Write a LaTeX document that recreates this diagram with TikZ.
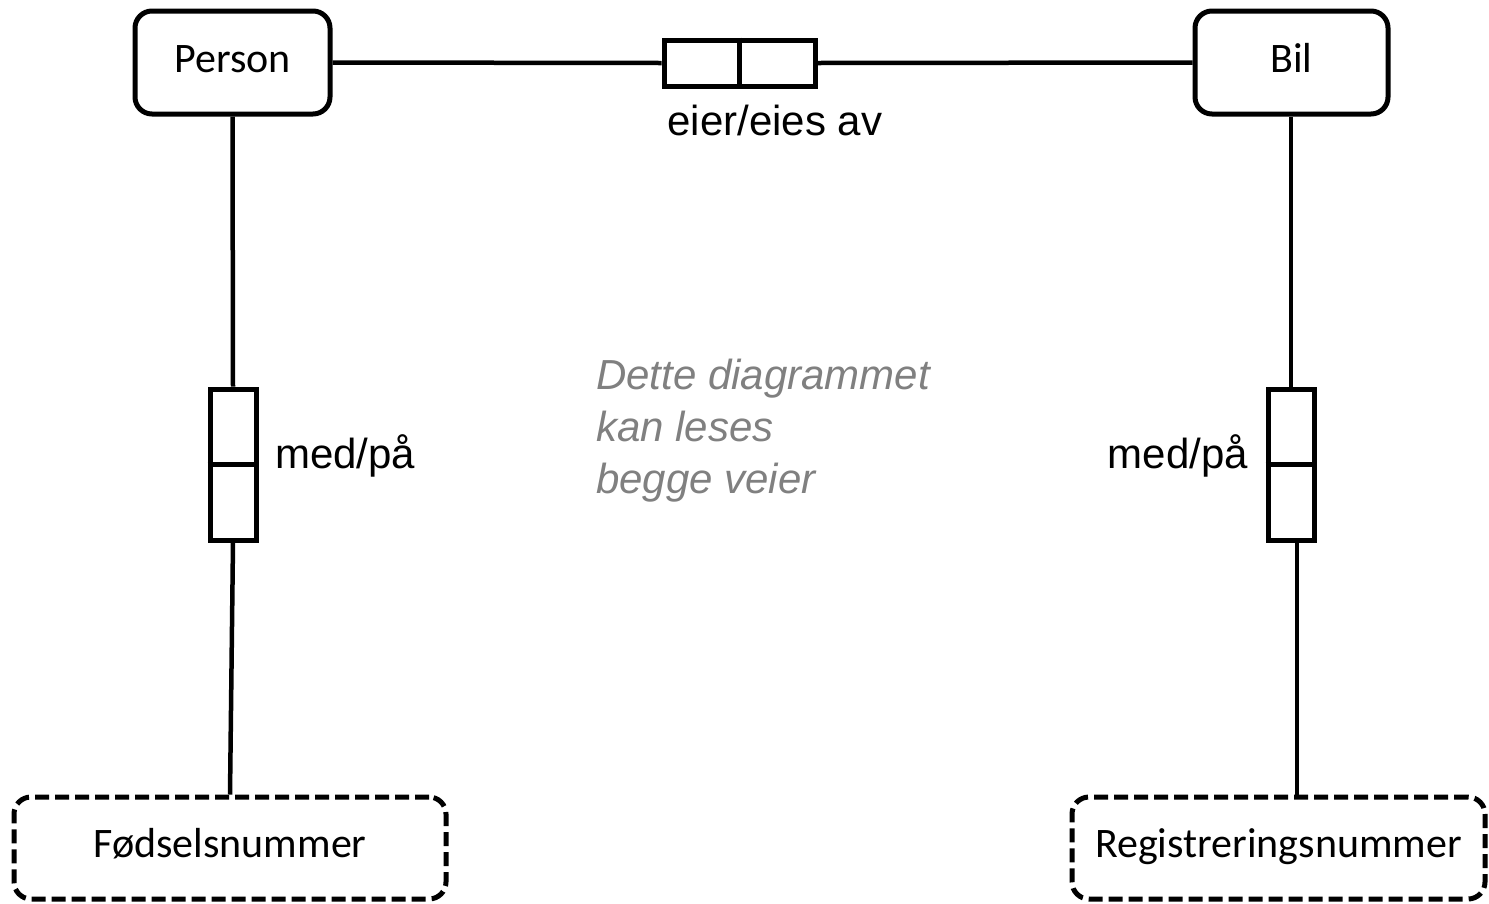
\documentclass[tikz,border=0pt]{standalone}
\usepackage{fontspec}
\setmainfont{Carlito}
\newfontfamily\arialf{Liberation Sans}
\begin{document}
\begin{tikzpicture}[x=1pt,y=-1pt,
  entity/.style={draw, line width=5pt, rounded corners=17pt, rectangle,
    inner sep=0pt, text height=27pt, text depth=8pt,
    font=\fontsize{42}{50}\selectfont},
  entitydashed/.style={entity, dash pattern=on 14pt off 6pt},
  relbox/.style={draw, line width=5pt, rectangle, inner sep=0pt},
  link/.style={line width=4.5pt},
  rellabel/.style={inner sep=0pt, font=\arialf\fontsize{42}{50}\selectfont},
  note/.style={inner sep=0pt, text=black!50, font=\arialf\itshape\fontsize{42}{52}\selectfont}
]
\useasboundingbox (0,0) rectangle (1489,903);

% entities
\node[entity, minimum width=195pt, minimum height=103pt] (person) at (232.5,62.5) {Person};
\node[entity, minimum width=193pt, minimum height=103pt] (bil) at (1291.5,62.5) {Bil};
\node[entitydashed, minimum width=432pt, minimum height=102pt] (fnr) at (230,848) {Fødselsnummer};
\node[entitydashed, minimum width=413pt, minimum height=102pt] (regnr) at (1278.5,848) {Registreringsnummer};

% relationship boxes (two halves each)
\node[relbox, minimum width=151pt, minimum height=46pt] (eier) at (739.5,63) {};
\node[relbox, minimum width=46pt, minimum height=151pt] (medL) at (233,464.5) {};
\node[relbox, minimum width=46pt, minimum height=151pt] (medR) at (1291,464.5) {};
\draw[line width=4.5pt] (eier.north) -- (eier.south);
\draw[line width=4.5pt] (medL.west) -- (medL.east);
\draw[line width=4.5pt] (medR.west) -- (medR.east);

% connectors
\coordinate (regtop) at (1297,797);
\draw[link] (person.east) -- (eier.west);
\draw[link] (eier.east) -- (bil.west);
\draw[link] (person.south) -- (medL.north);
\draw[link] (medL.south) -- (fnr.north);
\draw[link] (bil.south -| medR.north) -- (medR.north);
\draw[link] ([xshift=6pt]medR.south) -- (regtop);

% labels
\node[rellabel, anchor=base] (eierlbl) at (775,135) {eier/eies av};
\node[rellabel, anchor=base west] (medLlbl) at (275,468) {med/på};
\node[rellabel, anchor=base east] (medRlbl) at (1248,468) {med/på};

% reading note
\node[note, anchor=base west] (note1) at (596,389) {Dette diagrammet};
\node[note, anchor=base west] (note2) at (596,441) {kan leses};
\node[note, anchor=base west] (note3) at (596,493) {begge veier};
\end{tikzpicture}
\end{document}
